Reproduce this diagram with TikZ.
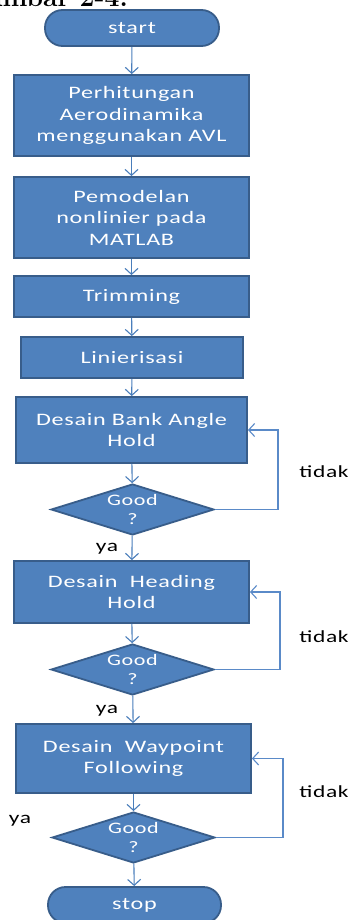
\documentclass[tikz,border=0pt]{standalone}
\usepackage{fontspec}
\setmainfont{Carlito}
\newfontfamily\wide[FakeStretch=1.38,LetterSpace=4]{Carlito}
\newfontfamily\capfont{Latin Modern Roman}
\usetikzlibrary{shapes.geometric,arrows.meta}
\definecolor{boxfill}{HTML}{4F81BD}
\definecolor{boxline}{HTML}{385D8A}
\definecolor{arrowcol}{HTML}{4A7EBB}
\definecolor{loopcol}{HTML}{5A8AC8}
\tikzset{
  procbox/.style={draw=boxline,line width=1.8pt,fill=boxfill,text=white,
    font=\fontsize{17.5}{21.5}\wide,align=center,inner sep=0pt},
  termbox/.style={procbox,rounded corners=17.5pt},
  decbox/.style={shape=diamond,draw=boxline,line width=1.8pt,fill=boxfill,text=white,
    font=\fontsize{16}{18.5}\wide,align=center,inner sep=0pt,
    minimum width=163pt,minimum height=51pt,aspect=3.2},
  flow/.style={draw=arrowcol,line width=1.1pt,-{Straight Barb[length=6pt,width=13pt,line width=1.1pt]}},
  loopflow/.style={flow,draw=loopcol},
  lbl/.style={text=black,font=\fontsize{17}{20}\wide,inner sep=0pt}
}
\begin{document}
\begin{tikzpicture}[x=1pt,y=-1pt]
\useasboundingbox (0,0) rectangle (350,920);
\clip (0,0) rectangle (350,920);
\node[anchor=base east,font=\fontsize{26.5}{30}\capfont\bfseries,inner sep=0pt] (cap) at (128,7) {Gambar 2-4.};
\node[termbox,minimum width=174pt,minimum height=36pt] (start) at (132,28) {start};
\node[procbox,minimum width=235pt,minimum height=81pt] (b1) at (131.5,115.5) {Perhitungan\\Aerodinamika\\menggunakan AVL};
\node[procbox,minimum width=235pt,minimum height=81pt] (b2) at (131.5,217.5) {Pemodelan\\nonlinier pada\\MATLAB};
\node[procbox,minimum width=235pt,minimum height=41pt] (trim) at (131.5,296.5) {Trimming};
\node[procbox,minimum width=222pt,minimum height=41pt] (lin) at (132,357.5) {Linierisasi};
\node[procbox,minimum width=231pt,minimum height=66pt] (bank) at (131.5,430) {Desain Bank Angle\\Hold};
\node[decbox] (d1) at (132.5,509.5) {Good\\?};
\node[procbox,minimum width=235pt,minimum height=62pt] (head) at (131.5,592) {Desain~ Heading\\Hold};
\node[decbox] (d2) at (132.5,669.5) {Good\\?};
\node[procbox,minimum width=235pt,minimum height=69pt] (way) at (133.5,758.5) {Desain~ Waypoint\\Following};
\node[decbox] (d3) at (133.5,837.5) {Good\\?};
\node[termbox,minimum width=173pt,minimum height=36pt] (stop) at (134.5,905) {stop};

\draw[flow] (start) -- (b1);
\draw[flow] (b1) -- (b2);
\draw[flow] (b2) -- (trim);
\draw[flow] (trim) -- (lin);
\draw[flow] (lin) -- (bank);
\draw[flow] (bank) -- (d1);
\draw[flow] (d1) -- (head);
\draw[flow] (head) -- (d2);
\draw[flow] (d2) -- (way);
\draw[flow] (way) -- (d3);
\draw[flow] (d3) -- (stop);

\coordinate (r1) at (278,430);
\coordinate (r2) at (280,592);
\coordinate (r3) at (283,758.5);
\draw[loopflow] (d1.east) -| (r1) -- (bank.east);
\draw[loopflow] (d2.east) -| (r2) -- (head.east);
\draw[loopflow] (d3.east) -| (r3) -- (way.east);

\node[lbl] (t1) at (324,472) {tidak};
\node[lbl] (t2) at (324,637) {tidak};
\node[lbl] (t3) at (324,792) {tidak};
\node[lbl] (y1) at (107,549) {ya};
\node[lbl] (y2) at (107,711) {ya};
\node[lbl] (y3) at (20,821) {ya};
\end{tikzpicture}
\end{document}
